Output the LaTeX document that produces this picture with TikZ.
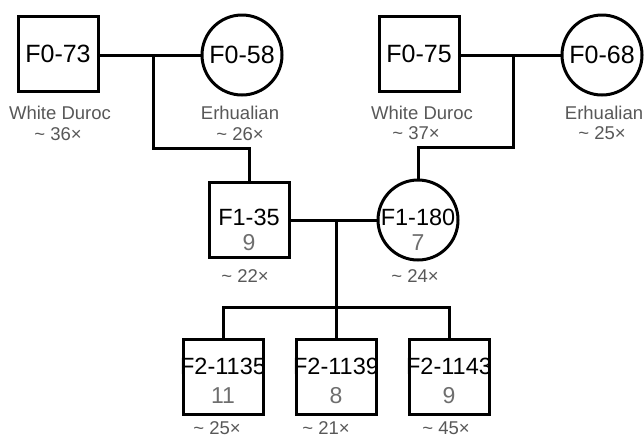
\documentclass[tikz,border=0pt]{standalone}
\usepackage{fontspec}
\setmainfont{Liberation Sans}
\definecolor{labgray}{HTML}{585858}
\definecolor{numgray}{HTML}{6E6E6E}
\begin{document}
\begin{tikzpicture}[x=1pt,y=-1pt,
  sq/.style={draw=black,line width=3pt,minimum width=80pt,minimum height=75pt,inner sep=0pt,font=\fontsize{25}{25}\selectfont},
  ci/.style={draw=black,line width=3pt,circle,minimum size=80pt,inner sep=0pt,font=\fontsize{25}{25}\selectfont},
  nm/.style={inner sep=0pt,font=\fontsize{23.5}{23.5}\selectfont},
  num/.style={inner sep=0pt,text=numgray,font=\fontsize{23}{23}\selectfont},
  lab/.style={inner sep=0pt,text=labgray,font=\fontsize{18.5}{18.5}\selectfont},
  ln/.style={line width=3pt,line cap=rect}]
\useasboundingbox (0,0) rectangle (644,437);
% F0 generation
\node[sq] (f073) at (58,54) {F0-73};
\node[ci] (f058) at (242,55) {F0-58};
\node[sq] (f075) at (419,54) {F0-75};
\node[ci] (f068) at (602,55) {F0-68};
\node[lab] (l073a) at (60,113) {White Duroc};
\node[lab] (l073b) at (58,134) {\textasciitilde\ 36×};
\node[lab] (l058a) at (240,113) {Erhualian};
\node[lab] (l058b) at (240,134) {\textasciitilde\ 26×};
\node[lab] (l075a) at (422,113) {White Duroc};
\node[lab] (l075b) at (416,133) {\textasciitilde\ 37×};
\node[lab] (l068a) at (604,113) {Erhualian};
\node[lab] (l068b) at (602,133) {\textasciitilde\ 25×};
% F1 generation
\node[sq] (f135) at (249,220) {};
\node[nm] (f135t) at (249,217) {F1-35};
\node[num] (f135n) at (249,243) {9};
\node[ci] (f1180) at (418,220) {};
\node[nm] (f1180t) at (418,217) {F1-180};
\node[num] (f1180n) at (418,243) {7};
\node[lab] (l135) at (245,276) {\textasciitilde\ 22×};
\node[lab] (l1180) at (415,276) {\textasciitilde\ 24×};
% F2 generation
\node[sq] (f21135) at (223,377) {};
\node[nm] (f21135t) at (223,366) {F2-1135};
\node[num] (f21135n) at (223,396) {11};
\node[sq] (f21139) at (336,377) {};
\node[nm] (f21139t) at (336,366) {F2-1139};
\node[num] (f21139n) at (336,396) {8};
\node[sq] (f21143) at (449,377) {};
\node[nm] (f21143t) at (449,366) {F2-1143};
\node[num] (f21143n) at (449,396) {9};
\node[lab] (l21135) at (217,428) {\textasciitilde\ 25×};
\node[lab] (l21139) at (326,428) {\textasciitilde\ 21×};
\node[lab] (l21143) at (446,428) {\textasciitilde\ 45×};
% connectors
\coordinate (j1) at (153,55);
\coordinate (k1) at (249,148);
\coordinate (j2) at (513,55);
\coordinate (k2) at (418,147);
\coordinate (j3) at (336,220);
\coordinate (k3) at (336,307);
\draw[ln] (f073.east |- j1) -- (f058.west);
\draw[ln] (j1) |- (k1) -- (f135.north);
\draw[ln] (f075.east |- j2) -- (f068.west);
\draw[ln] (j2) |- (k2) -- (f1180.north);
\draw[ln] (f135.east) -- (f1180.west);
\draw[ln] (j3) -- (k3);
\draw[ln] (k3) -| (f21135.north);
\draw[ln] (k3) -| (f21143.north);
\draw[ln] (k3) -- (f21139.north);
\end{tikzpicture}
\end{document}
